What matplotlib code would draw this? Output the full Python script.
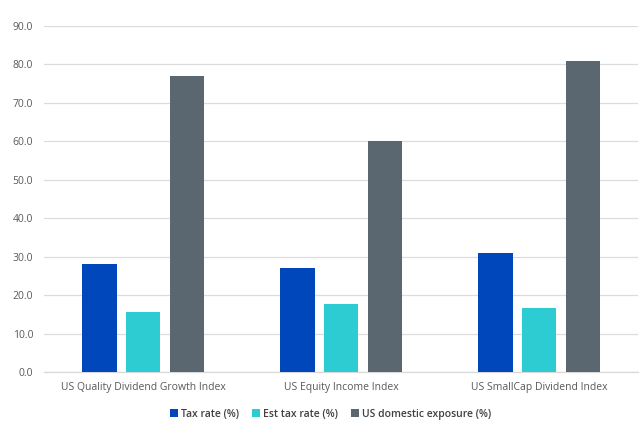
import matplotlib
matplotlib.use("Agg")
import matplotlib.pyplot as plt
import numpy as np

categories = ["US Quality Dividend Growth Index", "US Equity Income Index", "US SmallCap Dividend Index"]
series_names = ["Tax rate (%)", "Est tax rate (%)", "US domestic exposure (%)"]
tax_rate = [28.1, 27.2, 31.1]
est_tax_rate = [15.6, 17.8, 16.6]
us_domestic = [77.0, 60.2, 80.8]
yticks = [0, 10, 20, 30, 40, 50, 60, 70, 80, 90]
colors = ["#0047BB", "#2DCCD3", "#5B6770"]

plt.rcParams['font.family'] = ['Open Sans', 'DejaVu Sans']

fig = plt.figure(figsize=(6.42, 4.41), dpi=100)
ax = fig.add_axes([0.069, 0.156, 0.925, 0.785])

x = np.arange(len(categories))
width = 0.1735
offset = 0.221
for i, (vals, name, c) in enumerate(zip([tax_rate, est_tax_rate, us_domestic], series_names, colors)):
    ax.bar(x + (i - 1) * offset, vals, width, color=c, label=name, zorder=3)

ax.set_xlim(-0.5, 2.5)
ax.set_ylim(0, 90)
ax.set_yticks(yticks)
ax.set_yticklabels([f"{v:.1f}" for v in yticks])
ax.set_xticks(x)
ax.set_xticklabels(categories)
ax.tick_params(axis='both', length=0, labelsize=7.5, colors="#595959")
ax.tick_params(axis='y', pad=8)
ax.tick_params(axis='x', pad=7)
ax.grid(axis='y', color="#dcdcdc", linewidth=0.9, zorder=0)
for s in ['top', 'right', 'left']:
    ax.spines[s].set_visible(False)
ax.spines['bottom'].set_color("#d9d9d9")
ax.spines['bottom'].set_linewidth(0.9)

leg = fig.legend(loc='center', bbox_to_anchor=(0.515, 0.061), ncol=3, frameon=False,
                 fontsize=7.5, handlelength=0.7, handleheight=0.7, handletextpad=0.3,
                 columnspacing=1.3)
for t in leg.get_texts():
    t.set_color("#404040")
    t.set_fontweight('semibold')

fig.savefig("out.png", dpi=100)
